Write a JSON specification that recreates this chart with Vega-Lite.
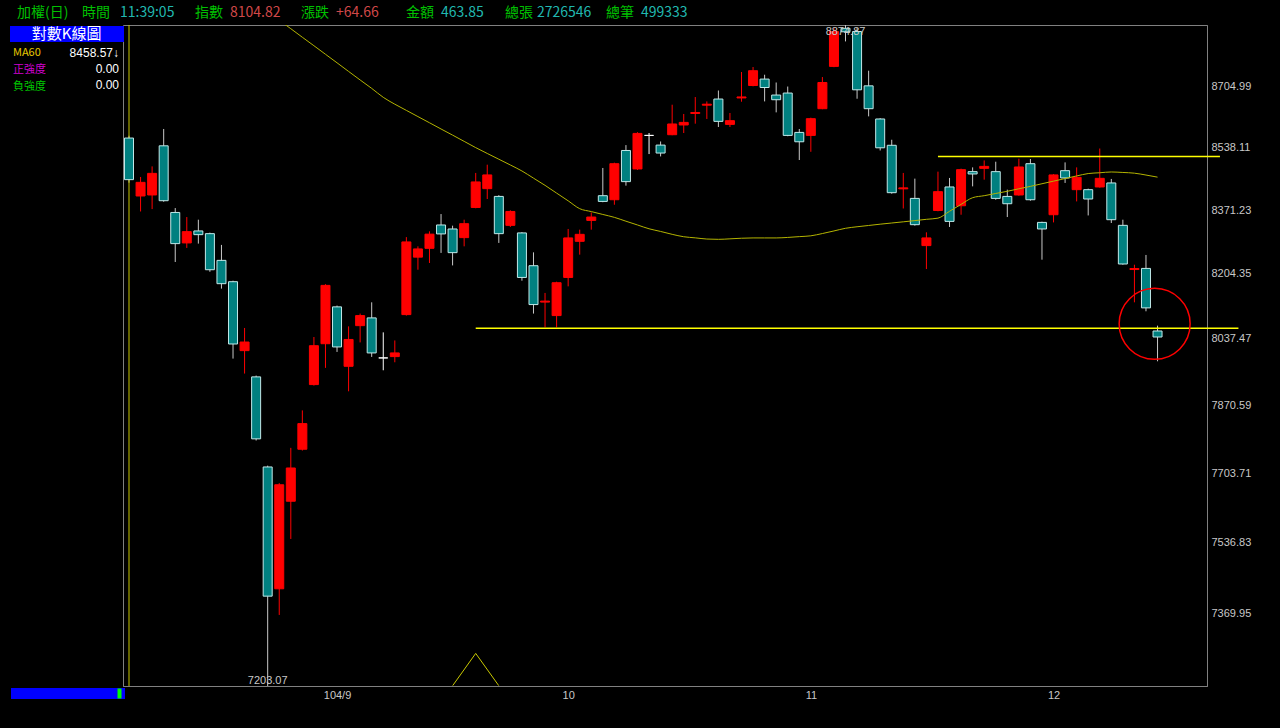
{
  "$schema": "https://vega.github.io/schema/vega-lite/v6.json",
  "width": 1084,
  "height": 661,
  "autosize": {"type": "none"},
  "padding": {"left": 123, "top": 25, "right": 73, "bottom": 42},
  "background": "#000000",
  "config": {
    "view": {"stroke": "#808080", "strokeWidth": 1, "fill": "#000000"},
    "axis": {"grid": false, "ticks": false, "tickSize": 0, "domainColor": "#808080", "labelColor": "#c8c8c8", "labelFont": "Liberation Sans", "labelFontSize": 11, "labelFlush": false, "labelOverlap": false},
    "legend": {"labelLimit": 400}
  },
  "resolve": {"axis": {"x": "shared", "y": "shared"}},
  "datasets": {
    "candles": [
      {"date": "2015-08-06", "i": 0, "open": 8563.7, "high": 8569.9, "low": 8443.9, "close": 8451.9},
      {"date": "2015-08-07", "i": 1, "open": 8408.4, "high": 8459.1, "low": 8367.4, "close": 8444.7},
      {"date": "2015-08-10", "i": 2, "open": 8411.1, "high": 8487.4, "low": 8373.7, "close": 8468.7},
      {"date": "2015-08-11", "i": 3, "open": 8542.7, "high": 8588.2, "low": 8393.2, "close": 8395.9},
      {"date": "2015-08-12", "i": 4, "open": 8364.8, "high": 8376.4, "low": 8235.0, "close": 8282.9},
      {"date": "2015-08-13", "i": 5, "open": 8284.7, "high": 8352.7, "low": 8271.6, "close": 8314.3},
      {"date": "2015-08-14", "i": 6, "open": 8316.1, "high": 8345.7, "low": 8282.9, "close": 8306.4},
      {"date": "2015-08-17", "i": 7, "open": 8309.0, "high": 8311.6, "low": 8209.6, "close": 8214.9},
      {"date": "2015-08-18", "i": 8, "open": 8239.2, "high": 8279.5, "low": 8166.0, "close": 8178.8},
      {"date": "2015-08-19", "i": 9, "open": 8183.9, "high": 8186.5, "low": 7987.6, "close": 8024.5},
      {"date": "2015-08-20", "i": 10, "open": 8007.7, "high": 8065.2, "low": 7949.9, "close": 8029.5},
      {"date": "2015-08-21", "i": 11, "open": 7941.6, "high": 7944.9, "low": 7783.6, "close": 7787.7},
      {"date": "2015-08-24", "i": 12, "open": 7718.9, "high": 7722.1, "low": 7203.07, "close": 7410.34},
      {"date": "2015-08-25", "i": 13, "open": 7427.6, "high": 7679.6, "low": 7366.5, "close": 7675.64, "ma60": 8888.1},
      {"date": "2015-08-26", "i": 14, "open": 7635.8, "high": 7765.6, "low": 7545.4, "close": 7716.4, "ma60": 8864.5},
      {"date": "2015-08-27", "i": 15, "open": 7762.2, "high": 7858.0, "low": 7759.0, "close": 7825.3, "ma60": 8840.6},
      {"date": "2015-08-28", "i": 16, "open": 7922.3, "high": 8042.2, "low": 7919.8, "close": 8020.2, "ma60": 8817.0},
      {"date": "2015-08-31", "i": 17, "open": 8025.2, "high": 8177.5, "low": 7964.2, "close": 8174.4, "ma60": 8793.2},
      {"date": "2015-09-01", "i": 18, "open": 8119.1, "high": 8122.4, "low": 8004.4, "close": 8017.0, "ma60": 8769.6},
      {"date": "2015-09-02", "i": 19, "open": 7968.2, "high": 8069.3, "low": 7905.5, "close": 8036.0, "ma60": 8745.7},
      {"date": "2015-09-03", "i": 20, "open": 8071.1, "high": 8101.9, "low": 8028.5, "close": 8096.8, "ma60": 8722.2},
      {"date": "2015-09-04", "i": 21, "open": 8090.9, "high": 8130.8, "low": 7991.8, "close": 8001.9, "ma60": 8699.0},
      {"date": "2015-09-07", "i": 22, "open": 7989.3, "high": 8054.0, "low": 7958.2, "close": 7989.3, "ma60": 8674.5},
      {"date": "2015-09-08", "i": 23, "open": 7992.6, "high": 8033.5, "low": 7978.3, "close": 8001.9, "ma60": 8655.7},
      {"date": "2015-09-09", "i": 24, "open": 8099.3, "high": 8299.9, "low": 8096.8, "close": 8287.3, "ma60": 8638.8},
      {"date": "2015-09-10", "i": 25, "open": 8247.6, "high": 8275.8, "low": 8214.9, "close": 8269.0, "ma60": 8621.9},
      {"date": "2015-09-11", "i": 26, "open": 8270.6, "high": 8315.1, "low": 8232.4, "close": 8307.7, "ma60": 8605.1},
      {"date": "2015-09-14", "i": 27, "open": 8331.8, "high": 8360.6, "low": 8258.6, "close": 8308.3, "ma60": 8588.2},
      {"date": "2015-09-15", "i": 28, "open": 8321.3, "high": 8330.0, "low": 8226.1, "close": 8259.3, "ma60": 8571.6},
      {"date": "2015-09-16", "i": 29, "open": 8298.6, "high": 8345.7, "low": 8275.8, "close": 8335.2, "ma60": 8554.7},
      {"date": "2015-09-17", "i": 30, "open": 8378.0, "high": 8469.8, "low": 8375.9, "close": 8445.8, "ma60": 8537.8},
      {"date": "2015-09-18", "i": 31, "open": 8427.9, "high": 8491.9, "low": 8400.4, "close": 8464.5, "ma60": 8522.1},
      {"date": "2015-09-21", "i": 32, "open": 8407.3, "high": 8410.5, "low": 8284.7, "close": 8309.0, "ma60": 8506.6},
      {"date": "2015-09-22", "i": 33, "open": 8330.8, "high": 8370.5, "low": 8326.6, "close": 8367.4, "ma60": 8491.1},
      {"date": "2015-09-23", "i": 34, "open": 8310.9, "high": 8313.0, "low": 8186.5, "close": 8194.9, "ma60": 8475.1},
      {"date": "2015-09-24", "i": 35, "open": 8225.3, "high": 8260.1, "low": 8101.9, "close": 8125.0, "ma60": 8455.9},
      {"date": "2015-09-25", "i": 36, "open": 8131.4, "high": 8154.9, "low": 8066.8, "close": 8133.9, "ma60": 8436.7},
      {"date": "2015-09-30", "i": 37, "open": 8096.8, "high": 8183.9, "low": 8066.8, "close": 8181.3, "ma60": 8416.1},
      {"date": "2015-10-01", "i": 38, "open": 8194.9, "high": 8321.3, "low": 8171.9, "close": 8297.8, "ma60": 8395.6},
      {"date": "2015-10-02", "i": 39, "open": 8288.9, "high": 8319.5, "low": 8254.1, "close": 8307.2, "ma60": 8374.8},
      {"date": "2015-10-05", "i": 40, "open": 8343.8, "high": 8364.8, "low": 8319.5, "close": 8352.7, "ma60": 8367.1},
      {"date": "2015-10-06", "i": 41, "open": 8409.2, "high": 8483.1, "low": 8391.9, "close": 8394.0, "ma60": 8359.5},
      {"date": "2015-10-07", "i": 42, "open": 8398.5, "high": 8497.3, "low": 8385.2, "close": 8494.6, "ma60": 8351.9},
      {"date": "2015-10-08", "i": 43, "open": 8530.1, "high": 8544.6, "low": 8435.9, "close": 8446.6, "ma60": 8341.7},
      {"date": "2015-10-12", "i": 44, "open": 8480.5, "high": 8579.5, "low": 8477.8, "close": 8576.2, "ma60": 8331.8},
      {"date": "2015-10-13", "i": 45, "open": 8570.8, "high": 8577.3, "low": 8520.5, "close": 8570.8, "ma60": 8321.8},
      {"date": "2015-10-14", "i": 46, "open": 8544.6, "high": 8554.4, "low": 8514.1, "close": 8523.2, "ma60": 8314.8},
      {"date": "2015-10-15", "i": 47, "open": 8572.7, "high": 8654.3, "low": 8571.3, "close": 8601.8, "ma60": 8307.2},
      {"date": "2015-10-16", "i": 48, "open": 8599.1, "high": 8629.0, "low": 8577.3, "close": 8606.1, "ma60": 8300.9},
      {"date": "2015-10-19", "i": 49, "open": 8630.4, "high": 8675.3, "low": 8602.6, "close": 8633.1, "ma60": 8298.0},
      {"date": "2015-10-20", "i": 50, "open": 8653.0, "high": 8663.3, "low": 8615.4, "close": 8655.7, "ma60": 8294.9},
      {"date": "2015-10-21", "i": 51, "open": 8669.8, "high": 8693.2, "low": 8593.6, "close": 8608.9, "ma60": 8294.1},
      {"date": "2015-10-22", "i": 52, "open": 8600.7, "high": 8631.7, "low": 8593.6, "close": 8610.8, "ma60": 8295.4},
      {"date": "2015-10-23", "i": 53, "open": 8672.8, "high": 8744.1, "low": 8662.5, "close": 8675.5, "ma60": 8297.0},
      {"date": "2015-10-26", "i": 54, "open": 8706.9, "high": 8757.9, "low": 8704.7, "close": 8747.7, "ma60": 8297.8},
      {"date": "2015-10-27", "i": 55, "open": 8724.6, "high": 8736.6, "low": 8663.3, "close": 8701.4, "ma60": 8297.8},
      {"date": "2015-10-28", "i": 56, "open": 8680.7, "high": 8715.2, "low": 8633.4, "close": 8667.9, "ma60": 8297.8},
      {"date": "2015-10-29", "i": 57, "open": 8686.2, "high": 8704.1, "low": 8568.6, "close": 8570.8, "ma60": 8299.1},
      {"date": "2015-10-30", "i": 58, "open": 8578.9, "high": 8588.2, "low": 8504.5, "close": 8553.6, "ma60": 8301.2},
      {"date": "2015-11-02", "i": 59, "open": 8570.8, "high": 8618.9, "low": 8526.6, "close": 8616.2, "ma60": 8303.3},
      {"date": "2015-11-03", "i": 60, "open": 8643.4, "high": 8730.2, "low": 8642.0, "close": 8715.2, "ma60": 8309.3},
      {"date": "2015-11-04", "i": 61, "open": 8759.6, "high": 8867.0, "low": 8757.4, "close": 8856.7, "ma60": 8316.1},
      {"date": "2015-11-05", "i": 62, "open": 8865.6, "high": 8874.87, "low": 8829.0, "close": 8855.9, "ma60": 8323.1},
      {"date": "2015-11-06", "i": 63, "open": 8856.7, "high": 8866.1, "low": 8670.6, "close": 8695.1, "ma60": 8327.1},
      {"date": "2015-11-09", "i": 64, "open": 8706.0, "high": 8747.7, "low": 8622.5, "close": 8643.4, "ma60": 8330.5},
      {"date": "2015-11-10", "i": 65, "open": 8615.4, "high": 8617.6, "low": 8530.1, "close": 8537.3, "ma60": 8333.9},
      {"date": "2015-11-11", "i": 66, "open": 8544.1, "high": 8559.1, "low": 8414.5, "close": 8417.2, "ma60": 8337.0},
      {"date": "2015-11-12", "i": 67, "open": 8427.4, "high": 8469.8, "low": 8375.3, "close": 8430.0, "ma60": 8340.1},
      {"date": "2015-11-13", "i": 68, "open": 8402.0, "high": 8454.6, "low": 8330.0, "close": 8332.6, "ma60": 8343.3},
      {"date": "2015-11-16", "i": 69, "open": 8277.7, "high": 8312.5, "low": 8216.7, "close": 8297.8, "ma60": 8346.7},
      {"date": "2015-11-17", "i": 70, "open": 8370.0, "high": 8473.3, "low": 8367.9, "close": 8419.9, "ma60": 8349.8},
      {"date": "2015-11-18", "i": 71, "open": 8432.4, "high": 8456.4, "low": 8326.6, "close": 8341.2, "ma60": 8367.9},
      {"date": "2015-11-19", "i": 72, "open": 8382.5, "high": 8481.3, "low": 8358.8, "close": 8478.6, "ma60": 8386.2},
      {"date": "2015-11-20", "i": 73, "open": 8473.3, "high": 8484.7, "low": 8434.0, "close": 8467.1, "ma60": 8403.9},
      {"date": "2015-11-23", "i": 74, "open": 8482.1, "high": 8503.4, "low": 8451.9, "close": 8487.4, "ma60": 8409.2},
      {"date": "2015-11-24", "i": 75, "open": 8473.3, "high": 8499.9, "low": 8398.5, "close": 8402.0, "ma60": 8415.1},
      {"date": "2015-11-25", "i": 76, "open": 8407.3, "high": 8425.2, "low": 8352.7, "close": 8387.9, "ma60": 8420.9},
      {"date": "2015-11-26", "i": 77, "open": 8411.1, "high": 8508.0, "low": 8409.2, "close": 8485.8, "ma60": 8427.6},
      {"date": "2015-11-27", "i": 78, "open": 8494.6, "high": 8507.2, "low": 8395.9, "close": 8398.5, "ma60": 8434.0},
      {"date": "2015-11-30", "i": 79, "open": 8338.6, "high": 8340.4, "low": 8241.0, "close": 8321.3, "ma60": 8441.0},
      {"date": "2015-12-01", "i": 80, "open": 8358.8, "high": 8466.6, "low": 8338.6, "close": 8464.5, "ma60": 8447.9},
      {"date": "2015-12-02", "i": 81, "open": 8475.9, "high": 8498.1, "low": 8443.1, "close": 8456.4, "ma60": 8454.8},
      {"date": "2015-12-03", "i": 82, "open": 8425.2, "high": 8484.7, "low": 8394.0, "close": 8458.1, "ma60": 8461.8},
      {"date": "2015-12-04", "i": 83, "open": 8425.2, "high": 8427.9, "low": 8356.9, "close": 8400.4, "ma60": 8468.2},
      {"date": "2015-12-07", "i": 84, "open": 8432.4, "high": 8535.4, "low": 8430.6, "close": 8455.4, "ma60": 8470.3},
      {"date": "2015-12-08", "i": 85, "open": 8443.1, "high": 8453.8, "low": 8337.0, "close": 8345.7, "ma60": 8472.4},
      {"date": "2015-12-09", "i": 86, "open": 8330.8, "high": 8345.7, "low": 8227.9, "close": 8229.8, "ma60": 8471.1},
      {"date": "2015-12-10", "i": 87, "open": 8215.4, "high": 8227.9, "low": 8130.8, "close": 8218.0, "ma60": 8469.2},
      {"date": "2015-12-11", "i": 88, "open": 8218.3, "high": 8253.3, "low": 8107.8, "close": 8116.5, "ma60": 8464.2},
      {"date": "2015-12-14", "i": 89, "open": 8057.5, "high": 8071.1, "low": 7980.8, "close": 8042.2, "ma60": 8458.57}
    ],
    "trendlines": [
      {"name": "壓力線", "start": 70, "end": 94.4, "level": 8514.1},
      {"name": "支撐線", "start": 30, "end": 96, "level": 8064.2}
    ],
    "circleMark": [{"name": "跌破支撐", "i": 88.75, "price": 8075.7}],
    "triangleMark": [{"name": "轉折", "i": 30, "price": 7240.7}]
  },
  "layer": [
    {
      "data": {"name": "candles"},
      "mark": {"type": "rule", "strokeWidth": 1},
      "encoding": {
        "x": {"field": "i", "type": "quantitative", "title": null,
          "scale": {"type": "linear", "domain": [-0.52, 93.28], "nice": false, "zero": false, "padding": 0},
          "axis": {"orient": "bottom", "values": [18, 38, 59, 80], "labelExpr": "datum.value == 18 ? '104/9' : datum.value == 38 ? '10' : datum.value == 59 ? '11' : '12'", "labelColor": "#c8c8c8", "labelFontSize": 11, "labelPadding": 3, "title": null}},
        "y": {"field": "low", "type": "quantitative", "title": null,
          "scale": {"type": "log", "domain": [7203.07, 8874.87], "nice": false, "zero": false, "padding": 0},
          "axis": {"orient": "right", "values": [7369.95, 7536.83, 7703.71, 7870.59, 8037.47, 8204.35, 8371.23, 8538.11, 8704.99], "format": ".2f", "labelPadding": 4, "title": null}},
        "y2": {"field": "high"},
        "color": {"condition": [{"test": "datum.close > datum.open", "value": "#ff0000"}, {"test": "datum.close < datum.open", "value": "#c8c8c8"}], "value": "#ffffff"}
      }
    },
    {
      "data": {"name": "candles"},
      "mark": {"type": "rule", "color": "#c8c800", "strokeWidth": 1},
      "transform": [{"filter": "datum.i == 0"}],
      "encoding": {
        "x": {"field": "i", "type": "quantitative", "title": null}
      }
    },
    {
      "data": {"name": "candles"},
      "mark": {"type": "bar", "width": 9, "orient": "vertical", "strokeWidth": 1},
      "encoding": {
        "x": {"field": "i", "type": "quantitative", "title": null},
        "y": {"field": "open", "type": "quantitative", "title": null},
        "y2": {"field": "close"},
        "fill": {"condition": [{"test": "datum.close > datum.open", "value": "#ff0000"}, {"test": "datum.close < datum.open", "value": "#008080"}], "value": "#ffffff"},
        "stroke": {"condition": [{"test": "datum.close > datum.open", "value": "#ff0000"}, {"test": "datum.close < datum.open", "value": "#c0e8e8"}], "value": "#ffffff"}
      }
    },
    {
      "data": {"name": "candles"},
      "mark": {"type": "line", "color": "#b4b400", "strokeWidth": 1, "clip": true, "interpolate": "monotone"},
      "encoding": {
        "x": {"field": "i", "type": "quantitative", "title": null},
        "y": {"field": "ma60", "type": "quantitative", "title": null}
      }
    },
    {
      "data": {"name": "candles"},
      "transform": [{"filter": "datum.i == 62"}],
      "mark": {"type": "text", "baseline": "top", "align": "center", "dy": 1, "font": "Liberation Sans", "fontSize": 11, "color": "#c8c8c8"},
      "encoding": {
        "x": {"field": "i", "type": "quantitative", "title": null},
        "y": {"field": "high", "type": "quantitative", "title": null},
        "text": {"field": "high", "type": "quantitative", "format": ".2f"}
      }
    },
    {
      "data": {"name": "candles"},
      "transform": [{"filter": "datum.i == 12"}],
      "mark": {"type": "text", "baseline": "bottom", "align": "center", "font": "Liberation Sans", "fontSize": 11, "color": "#c8c8c8"},
      "encoding": {
        "x": {"field": "i", "type": "quantitative", "title": null},
        "y": {"field": "low", "type": "quantitative", "title": null},
        "text": {"field": "low", "type": "quantitative", "format": ".2f"}
      }
    },
    {
      "data": {"name": "trendlines"},
      "mark": {"type": "rule", "color": "#ffff00", "strokeWidth": 1.5},
      "encoding": {
        "x": {"field": "start", "type": "quantitative", "title": null},
        "x2": {"field": "end"},
        "y": {"field": "level", "type": "quantitative", "title": null}
      }
    },
    {
      "data": {"name": "circleMark"},
      "mark": {"type": "point", "shape": "circle", "size": 5041, "filled": false, "stroke": "#ff0000", "strokeWidth": 1.5, "opacity": 1},
      "encoding": {
        "x": {"field": "i", "type": "quantitative", "title": null},
        "y": {"field": "price", "type": "quantitative", "title": null}
      }
    },
    {
      "data": {"name": "triangleMark"},
      "mark": {"type": "point", "shape": "M-1,0.7L0,-0.7L1,0.7", "size": 2116, "filled": false, "stroke": "#c8c800", "strokeWidth": 1, "opacity": 1},
      "encoding": {
        "x": {"field": "i", "type": "quantitative", "title": null},
        "y": {"field": "price", "type": "quantitative", "title": null}
      }
    },
    {
      "data": {"values": []},
      "mark": {"type": "point"},
      "encoding": {
        "stroke": {"field": "header", "type": "nominal",
          "scale": {"domain": ["加權(日)", "時間", "11:39:05", "指數", "8104.82", "漲跌", "+64.66", "金額", "463.85", "總張", "2726546", "總筆", "499333"], "range": ["#00c000"]},
          "legend": {"orient": "none", "legendX": -106, "legendY": -19, "direction": "horizontal", "title": null, "padding": 0, "columnPadding": 0,
            "symbolSize": 0, "symbolOpacity": 0, "symbolStrokeWidth": 0, "labelOffset": -14,
            "labelFont": "Noto Sans CJK TC", "labelFontSize": 14,
            "labelExpr": "datum.value + ['\u00a0\u00a0\u00a0\u00a0', '\u00a0\u00a0\u00a0', '\u3000\u00a0\u00a0', '\u00a0\u00a0', '\u3000\u00a0\u00a0', '\u00a0\u00a0', '\u3000\u00a0\u00a0\u00a0\u00a0', '\u00a0\u00a0', '\u3000\u00a0\u00a0', '\u00a0', '\u3000', '\u00a0\u00a0', ''][indexof(['加權(日)','時間','11:39:05','指數','8104.82','漲跌','+64.66','金額','463.85','總張','2726546','總筆','499333'], datum.value)] + '\u200b'",
            "labelColor": {"expr": "indexof(['加權(日)','時間','指數','漲跌','金額','總張','總筆'], datum.value) >= 0 ? '#00c000' : (datum.value === '8104.82' || datum.value === '+64.66') ? '#d04848' : '#20b8b0'"}}},
        "fill": {"field": "panel", "type": "nominal",
          "scale": {"domain": ["對數K線圖"], "range": ["#0000ff"]},
          "legend": {"orient": "none", "legendX": -113, "legendY": 1, "title": null, "padding": 0, "fillColor": "#0000ff",
            "symbolSize": 0, "symbolOpacity": 0, "symbolStrokeWidth": 0, "labelOffset": -15,
            "labelFont": "Noto Sans CJK TC", "labelFontSize": 15, "labelColor": "#ffffff",
            "labelExpr": "'\u200b\u3000\u00a0\u00a0' + datum.label + '\u3000\u00a0\u00a0\u200b'"}},
        "shape": {"field": "indicator", "type": "nominal",
          "scale": {"domain": ["MA60", "正強度", "負強度"], "range": ["circle", "circle", "circle"]},
          "legend": {"orient": "none", "legendX": -110, "legendY": 22, "title": null, "padding": 0, "rowPadding": 5,
            "symbolSize": 0, "symbolOpacity": 0, "symbolStrokeWidth": 0, "labelOffset": -11,
            "labelFont": "Noto Sans CJK TC", "labelFontSize": 11,
            "labelColor": {"expr": "datum.value === 'MA60' ? '#e8c800' : datum.value === '正強度' ? '#d000d0' : '#00c800'"}}},
        "strokeDash": {"field": "indicator", "type": "nominal",
          "scale": {"domain": ["MA60", "正強度", "負強度", ""], "range": [[1, 0], [1, 0], [1, 0], [1, 0]]},
          "legend": {"orient": "none", "legendX": -16, "legendY": 21.5, "values": ["MA60", "正強度", "負強度"], "title": null, "padding": 0, "rowPadding": 4,
            "symbolSize": 0, "symbolOpacity": 0, "symbolStrokeWidth": 0, "labelOffset": 0,
            "labelFont": "Liberation Sans", "labelFontSize": 12, "labelColor": "#ffffff", "labelAlign": "right",
            "labelExpr": "datum.value === 'MA60' ? '8458.57↓' : '0.00'"}}
      }
    },
    {
      "data": {"values": []},
      "mark": {"type": "point", "filled": true, "color": "#00ff00", "opacity": 1},
      "encoding": {
        "size": {"field": "scroll", "type": "nominal",
          "scale": {"type": "point", "domain": ["scroll"], "range": [100, 100]},
          "legend": {"orient": "none", "legendX": -112, "legendY": 663, "title": null, "padding": 0, "fillColor": "#0000ff",
            "symbolType": "M-0.4,-1H0.4V1H-0.4Z", "symbolOffset": 103, "symbolFillColor": "#00ff00", "symbolStrokeColor": "#00ff00", "symbolStrokeWidth": 0, "symbolOpacity": 1,
            "labelExpr": "''", "labelOffset": 0, "labelFontSize": 11}}
      }
    }
  ]
}
